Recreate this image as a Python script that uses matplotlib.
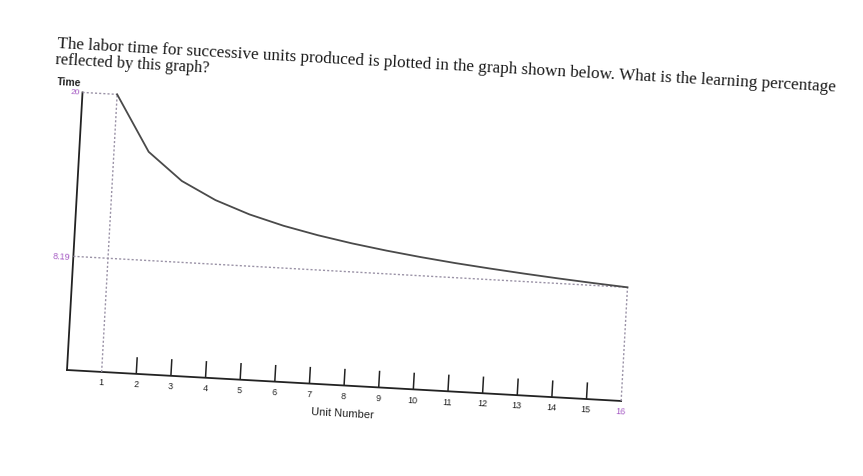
import matplotlib.pyplot as plt
from matplotlib.transforms import Affine2D

# --- data ---
units      = [1, 2, 3, 4, 5, 6, 7, 8, 9, 10, 11, 12, 13, 14, 15, 16]
labor_time = [20.0, 16.0, 14.04, 12.8, 11.91, 11.23, 10.69, 10.24,
              9.86, 9.53, 9.24, 8.99, 8.76, 8.55, 8.36, 8.19]
tick_units = [2, 3, 4, 5, 6, 7, 8, 9, 10, 11, 12, 13, 14, 15]
first_unit, last_unit = 1, 16
first_time, last_time = 20, 8.19

QUESTION = ["The labor time for successive units produced is plotted in the graph shown below. "
            "What is the learning percentage",
            "reflected by this graph?"]

TILT = -3.2          # the photo is turned a little clockwise
INK = "#222222"
DOTS = "#9a92a6"
PURPLE = "#a65cc4"

fig = plt.figure(figsize=(8.63, 4.77), dpi=100)
ax = fig.add_axes([67 / 863, 106 / 477, 555 / 863, 278 / 477])
ax.set_xlim(0, 16)
ax.set_ylim(0, 20)
ax.axis("off")

# rotate everything about the axes origin (display pixels)
tilt = Affine2D().rotate_deg_around(67, 106, TILT)
tr_data = ax.transData + tilt
tr_axes = ax.transAxes + tilt

# --- axes lines and ticks ---
ax.plot([0, 0], [0, first_time], color=INK, lw=1.3, transform=tr_data, clip_on=False)
ax.plot([0, last_unit], [0, 0], color=INK, lw=1.3, transform=tr_data, clip_on=False)
ax.vlines(tick_units, 0, 1.2, color=INK, lw=1.1, transform=tr_data, clip_on=False)

# --- dotted guide lines ---
dot = dict(color=DOTS, lw=1.0, ls=(0, (1.5, 1.5)), transform=tr_data, clip_on=False)
ax.plot([0, first_unit], [first_time, first_time], **dot)
ax.plot([first_unit, first_unit], [0, first_time], **dot)
ax.plot([0, last_unit], [last_time, last_time], **dot)
ax.plot([last_unit, last_unit], [0, last_time], **dot)

# --- learning curve ---
ax.plot(units, labor_time, color="#4a4a4a", lw=1.3, transform=tr_data, clip_on=False)

# --- tick labels ---
rot = dict(rotation=TILT, rotation_mode="anchor", transform=tr_data, clip_on=False)
for u in units:
    ax.text(u, -0.4, str(u), ha="center", va="top", fontsize=6.5,
            color=PURPLE if u == last_unit else INK, family="Liberation Sans", **rot)
ax.text(-0.08, first_time, "20", ha="right", va="center", fontsize=6,
        color=PURPLE, family="Liberation Sans", **rot)
ax.text(-0.08, last_time, "8.19", ha="right", va="center", fontsize=6.5,
        color=PURPLE, family="Liberation Sans", **rot)
ax.text(8, -2.0, "Unit Number", ha="center", va="center", fontsize=8,
        color=INK, family="Liberation Sans", **rot)

# --- y label and question text ---
txt = dict(ha="left", va="baseline", rotation=TILT, rotation_mode="anchor",
           transform=tr_axes, clip_on=False)
ax.text(-0.047, 1.025, "Time", fontsize=7.5, weight="bold",
        color=INK, family="Liberation Sans", **txt)
ax.text(-0.0505, 1.158, QUESTION[0], fontsize=12.3, color="#1a1a1a",
        family="Liberation Serif", **txt)
ax.text(-0.052, 1.099, QUESTION[1], fontsize=11.8, color="#1a1a1a",
        family="Liberation Serif", **txt)

fig.savefig("out.png", dpi=100, facecolor="white")
